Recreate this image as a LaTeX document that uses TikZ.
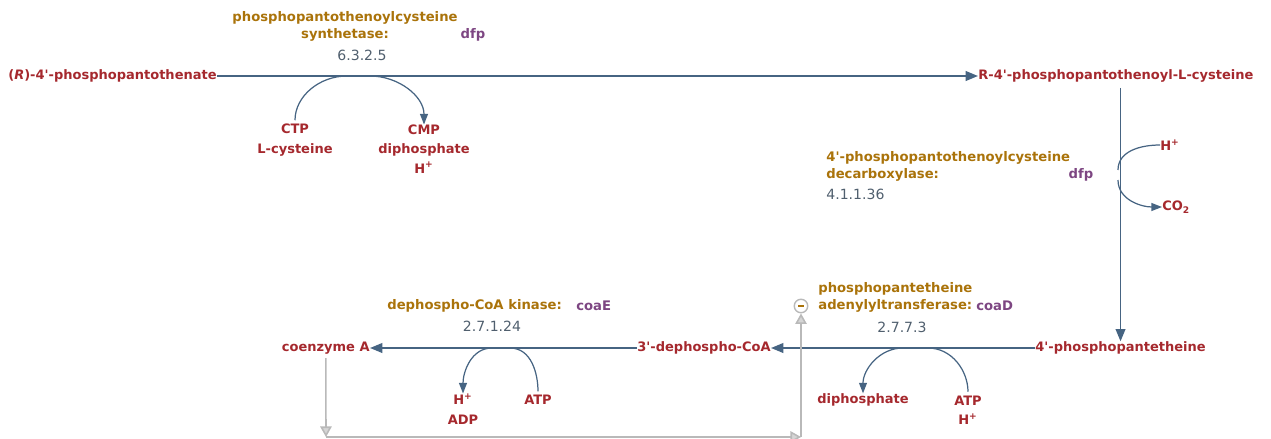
\documentclass[tikz,border=0pt]{standalone}
\usepackage{fontspec}
\setmainfont{DejaVu Sans}
\usetikzlibrary{arrows.meta}

\definecolor{cpdred}{RGB}{165,40,45}
\definecolor{enzgold}{RGB}{170,115,10}
\definecolor{genepurple}{RGB}{125,70,130}
\definecolor{ecgray}{RGB}{80,95,110}
\definecolor{rxnblue}{RGB}{70,100,130}
\definecolor{reggray}{RGB}{185,185,185}

\tikzset{
  cpd/.style={text=cpdred,font=\bfseries\fontsize{7.4}{11}\selectfont,inner sep=0pt,align=center},
  enz/.style={text=enzgold,font=\bfseries\fontsize{7.5}{9.6}\selectfont,inner sep=0pt},
  gene/.style={text=genepurple,font=\bfseries\fontsize{7.5}{9}\selectfont,inner sep=0pt},
  ecnum/.style={text=ecgray,font=\fontsize{8}{9}\selectfont,inner sep=0pt},
  rxn/.style={draw=rxnblue,line width=1pt,-{Triangle[length=7pt,width=5.5pt]}},
  side/.style={draw=rxnblue,line width=0.7pt},
  sidetip/.style={side,-{Triangle[length=6pt,width=4.5pt]}},
  reg/.style={draw=reggray,line width=0.9pt,-{Triangle[length=6pt,width=6.5pt,fill=reggray!60]}}
}

\begin{document}
\begin{tikzpicture}[x=0.02cm,y=-0.02cm]
\useasboundingbox (0,0) rectangle (1271,439);

% compounds
\node[cpd,anchor=west] (ppa) at (8,76) {(\textit{R})-4\textquotesingle-phosphopantothenate};
\node[cpd,anchor=west] (ppc) at (978,76) {R-4\textquotesingle-phosphopantothenoyl-L-cysteine};
\node[cpd,anchor=west] (ppt) at (1035,348) {4\textquotesingle-phosphopantetheine};
\node[cpd,anchor=east] (dpc) at (771,348) {3\textquotesingle-dephospho-CoA};
\node[cpd,anchor=east] (coa) at (370,348) {coenzyme A};

% enzymes
\node[enz,align=center] (enz1) at (345,26) {phosphopantothenoylcysteine\\synthetase:};
\node[gene] (gen1) at (473,35) {dfp};
\node[ecnum] (ec1) at (362,55) {6.3.2.5};
\node[enz,align=left,anchor=west] (enz2) at (826,166) {4\textquotesingle-phosphopantothenoylcysteine\\decarboxylase:};
\node[gene] (gen2) at (1081,175) {dfp};
\node[ecnum,anchor=west] (ec2) at (826,194) {4.1.1.36};
\node[enz,align=left,anchor=west] (enz3) at (818,297) {phosphopantetheine\\adenylyltransferase:};
\node[gene,anchor=west] (gen3) at (976,306) {coaD};
\node[ecnum] (ec3) at (902,327) {2.7.7.3};
\node[enz,anchor=west] (enz4) at (387,306) {dephospho-CoA kinase:};
\node[gene,anchor=west] (gen4) at (576,306) {coaE};
\node[ecnum] (ec4) at (492,326) {2.7.1.24};

% side compounds
\node[cpd] (ctp) at (295,140) {CTP\\L-cysteine};
\node[cpd] (cmp) at (424,149) {CMP\\diphosphate\\H\textsuperscript{+}};
\node[cpd,anchor=west] (hp1) at (1160,145) {H\textsuperscript{+}};
\node[cpd,anchor=west] (co2) at (1162,207) {CO\textsubscript{2}};
\node[cpd] (dip) at (863,400) {diphosphate};
\node[cpd] (atp1) at (968,410) {ATP\\H\textsuperscript{+}};
\node[cpd] (hadp) at (463,409) {H\textsuperscript{+}\\ADP};
\node[cpd] (atp2) at (538,400) {ATP};

% main reactions
\draw[rxn] (ppa.east) -- (ppc.west);
\draw[rxn,shorten <=3pt] (ppc.south -| ppt.north) -- (ppt.north);
\draw[rxn] (ppt.west) -- (dpc.east);
\draw[rxn] (dpc.west) -- (coa.east);

% side reactions
\coordinate (s1in) at (347,76);
\coordinate (s1out) at (370,76);
\draw[side,shorten <=2pt] (ctp.north) to[out=90,in=180] (s1in);
\draw[sidetip] (s1out) to[out=0,in=90] (cmp.north);

\coordinate (s2in) at (1118,170);
\coordinate (s2out) at (1118,180);
\draw[side] (hp1.west) to[out=180,in=90] (s2in);
\draw[sidetip] (s2out) to[out=270,in=180] (co2.west);

\coordinate (s3out) at (903,348);
\coordinate (s3in) at (928,348);
\draw[sidetip] (s3out) to[out=180,in=90] (dip.north);
\draw[side,shorten <=2pt] (atp1.north) to[out=90,in=0] (s3in);

\coordinate (s4out) at (492,348);
\coordinate (s4in) at (510,348);
\draw[sidetip] (s4out) to[out=180,in=90] (hadp.north);
\draw[side,shorten <=2pt] (atp2.north) to[out=90,in=0] (s4in);

% inhibition
\node[circle,draw=reggray,line width=0.8pt,inner sep=0pt,minimum size=0.27cm] (minus) at (801,306) {};
\draw[enzgold,line width=0.9pt] ([xshift=-0.06cm]minus.center) -- ([xshift=0.06cm]minus.center);
\coordinate (c1) at (326,437);
\coordinate (c2) at (801,437);
\draw[reg,shorten <=2pt] (coa.south) -- (c1);
\draw[reg] (c1) -- (c2);
\draw[reg] (c2) -- (minus.south);
\end{tikzpicture}
\end{document}
